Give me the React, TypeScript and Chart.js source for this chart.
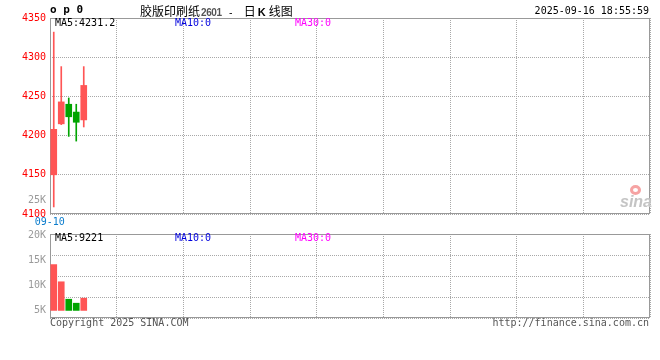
import React, { useEffect, useRef } from "react";
import { Chart, registerables } from "chart.js";
Chart.register(...registerables);

// ---- data ----
const DATES = ["09-10", "09-11", "09-12", "09-15", "09-16"];
const OPEN = [4150, 4215, 4240, 4230, 4220];
const HIGH = [4332, 4288, 4248, 4240, 4288];
const LOW = [4109, 4214, 4199, 4193, 4211];
const CLOSE = [4208, 4243, 4224, 4217, 4264];
const VOLUME = [14200, 10750, 7250, 6450, 7455];
const SLOTS = 80;
const PRICE_MIN = 4100;
const PRICE_MAX = 4350;
const PRICE_STEP = 50;
const VOL_TICKS = [5000, 10000, 15000, 20000];
const VOL_BASE = 5000;
const VOL_MIN = 3480;
const VOL_MAX = 20340;
const TITLE_NAME = "胶版印刷纸";
const TITLE_CODE = "2601";
const STAMP = "2025-09-16 18:55:59";

const RED = "#ff5555";
const GREEN = "#00a400";
const GRID = "#a8a8a8";
const BORDER = "#999999";
const MONO = "'DejaVu Sans Mono', monospace";
const CJK = "'Noto Sans CJK SC', sans-serif";
const FONT = { family: "DejaVu Sans Mono", size: 10 };

const labels = Array.from({ length: SLOTS }, (_, i) => DATES[i] ?? "");
const colors = OPEN.map((o, i) => (CLOSE[i] >= o ? RED : GREEN));
const avg = (a: number[]) => a.reduce((s, v) => s + v, 0) / a.length;
const ma5Price = avg(CLOSE.slice(-5)).toFixed(1);
const ma5Vol = Math.round(avg(VOLUME.slice(-5)));

const borderPlugin = {
  id: "frame",
  beforeDatasetsDraw(chart: any) {
    const { ctx, chartArea: a } = chart;
    ctx.save();
    ctx.strokeStyle = BORDER;
    ctx.lineWidth = 1;
    ctx.strokeRect(a.left + 0.5, a.top + 0.5, a.right - a.left - 1, a.bottom - a.top - 1);
    ctx.restore();
  },
};

const vGrid = () => ({
  type: "linear" as const,
  position: "bottom" as const,
  min: 0,
  max: 9,
  offset: false,
  ticks: { display: false, stepSize: 1 },
  grid: { color: GRID, drawTicks: false, lineWidth: 1, offset: false },
  border: { display: false, dash: [1, 1] },
  afterFit: (s: any) => {
    s.height = 0;
  },
});

function PriceChart() {
  const ref = useRef<HTMLCanvasElement>(null);
  useEffect(() => {
    const chart = new Chart(ref.current!, {
      type: "bar",
      data: {
        labels,
        datasets: [
          {
            data: OPEN.map((o, i) => [o, CLOSE[i]]) as any,
            backgroundColor: colors,
            barThickness: 6,
            grouped: false,
            borderWidth: 0,
            order: 0,
          } as any,
          {
            data: LOW.map((l, i) => [l, HIGH[i]]) as any,
            backgroundColor: colors,
            barThickness: 1,
            grouped: false,
            borderWidth: 0,
            order: 1,
          } as any,
        ],
      },
      options: {
        animation: false,
        responsive: false,
        maintainAspectRatio: false,
        layout: { padding: { top: 18, right: 10, left: 0, bottom: 0 } },
        plugins: { legend: { display: false }, tooltip: { enabled: false } },
        scales: {
          x: {
            type: "category",
            offset: true,
            grid: { display: false, drawTicks: false },
            border: { display: false },
            ticks: {
              autoSkip: false,
              maxRotation: 0,
              color: "#0a7ccc",
              font: FONT,
              padding: 2,
              labelOffset: -4,
              callback: (_v: any, i: number) => (i === 0 ? labels[0] : ""),
            },
            afterFit: (s: any) => {
              s.height = 16;
            },
          },
          xg: vGrid() as any,
          y: {
            min: PRICE_MIN,
            max: PRICE_MAX,
            position: "left",
            ticks: {
              stepSize: PRICE_STEP,
              color: "#ff0000",
              font: FONT,
              padding: 4,
              callback: (v: any) => String(v),
            },
            grid: { color: GRID, drawTicks: false },
            border: { display: false, dash: [1, 1] },
            afterFit: (s: any) => {
              s.width = 50;
            },
          },
        },
      } as any,
      plugins: [borderPlugin],
    });
    return () => chart.destroy();
  }, []);
  return (
    <canvas
      ref={ref}
      width={660}
      height={230}
      style={{ position: "absolute", left: 0, top: 0, width: 660, height: 230 }}
    />
  );
}

function VolumeChart() {
  const ref = useRef<HTMLCanvasElement>(null);
  useEffect(() => {
    const chart = new Chart(ref.current!, {
      type: "bar",
      data: {
        labels,
        datasets: [
          {
            data: VOLUME,
            base: VOL_BASE,
            backgroundColor: colors,
            barThickness: 6,
            borderWidth: 0,
          } as any,
        ],
      },
      options: {
        animation: false,
        responsive: false,
        maintainAspectRatio: false,
        layout: { padding: { top: 12, right: 10, left: 0, bottom: 12 } },
        plugins: { legend: { display: false }, tooltip: { enabled: false } },
        scales: {
          x: { type: "category", offset: true, display: false },
          xg: vGrid() as any,
          y: {
            min: VOL_MIN,
            max: VOL_MAX,
            position: "left",
            afterBuildTicks: (s: any) => {
              s.ticks = VOL_TICKS.map((v) => ({ value: v }));
            },
            ticks: {
              color: "#9a9a9a",
              font: FONT,
              padding: 4,
              callback: (v: any) => `${Number(v) / 1000}K`,
            },
            grid: { display: false, drawTicks: false },
            border: { display: false },
            afterFit: (s: any) => {
              s.width = 50;
            },
          },
          yg: {
            type: "linear",
            position: "right",
            min: 0,
            max: 4,
            ticks: { display: false, stepSize: 1 },
            grid: { color: GRID, drawTicks: false },
            border: { display: false, dash: [1, 1] },
            afterFit: (s: any) => {
              s.width = 0;
            },
          },
        },
      } as any,
      plugins: [borderPlugin],
    });
    return () => chart.destroy();
  }, []);
  return (
    <canvas
      ref={ref}
      width={660}
      height={108}
      style={{ position: "absolute", left: 0, top: 222, width: 660, height: 108 }}
    />
  );
}

function T(props: {
  x?: number;
  right?: number;
  cy: number;
  color?: string;
  font?: string;
  children: React.ReactNode;
}) {
  const style: React.CSSProperties = {
    position: "absolute",
    top: props.cy - 7,
    height: 14,
    lineHeight: "14px",
    whiteSpace: "pre",
    color: props.color ?? "#000",
    font: props.font ?? `10px ${MONO}`,
  };
  if (props.right !== undefined) style.right = props.right;
  else style.left = props.x;
  return <div style={style}>{props.children}</div>;
}

export default function App() {
  return (
    <div
      style={{
        position: "absolute",
        left: 0,
        top: 0,
        width: 660,
        height: 360,
        background: "#fff",
        overflow: "hidden",
      }}
    >
      <PriceChart />
      <VolumeChart />
      <T x={50} cy={9.5} font={`bold 11px ${MONO}`}>o p 0</T>
      <div
        style={{
          position: "absolute",
          left: 140,
          top: 2,
          height: 16,
          lineHeight: "16px",
          whiteSpace: "pre",
          display: "flex",
          alignItems: "baseline",
          color: "#000",
        }}
      >
        <span style={{ font: `12px ${CJK}` }}>{TITLE_NAME}</span>
        <span
          style={{
            font: `bold 10px 'Liberation Sans', sans-serif`,
            color: "#555",
            letterSpacing: "-0.4px",
            marginLeft: 1,
          }}
        >
          {TITLE_CODE}
        </span>
        <span style={{ font: `10px ${MONO}` }}>{" - "}</span>
        <span style={{ font: `12px ${CJK}`, marginLeft: 4 }}>日</span>
        <span style={{ font: `bold 11px 'Liberation Sans', sans-serif`, margin: "0 3px 0 2px" }}>K</span>
        <span style={{ font: `12px ${CJK}` }}>线图</span>
      </div>
      <T right={11} cy={12}>{STAMP}</T>
      <T x={55} cy={24}>{`MA5:${ma5Price}`}</T>
      <T x={175} cy={24} color="#0000dd">MA10:0</T>
      <T x={295} cy={24} color="#ff00ff">MA30:0</T>
      <T right={614} cy={201} color="#9a9a9a">25K</T>
      <T x={55} cy={239}>{`MA5:${ma5Vol}`}</T>
      <T x={175} cy={239} color="#0000dd">MA10:0</T>
      <T x={295} cy={239} color="#ff00ff">MA30:0</T>
      <T x={50} cy={324} color="#555">Copyright 2025 SINA.COM</T>
      <T right={11} cy={324} color="#555">http://finance.sina.com.cn</T>
      <div
        style={{
          position: "absolute",
          left: 630,
          top: 185,
          width: 11,
          height: 10,
          borderRadius: "50%",
          border: "3px solid #f6a3a3",
          boxSizing: "border-box",
        }}
      />
      <T
        x={620}
        cy={200}
        color="#c4c4c4"
        font={`italic bold 16px 'Liberation Sans', sans-serif`}
      >
        sina
      </T>
    </div>
  );
}
